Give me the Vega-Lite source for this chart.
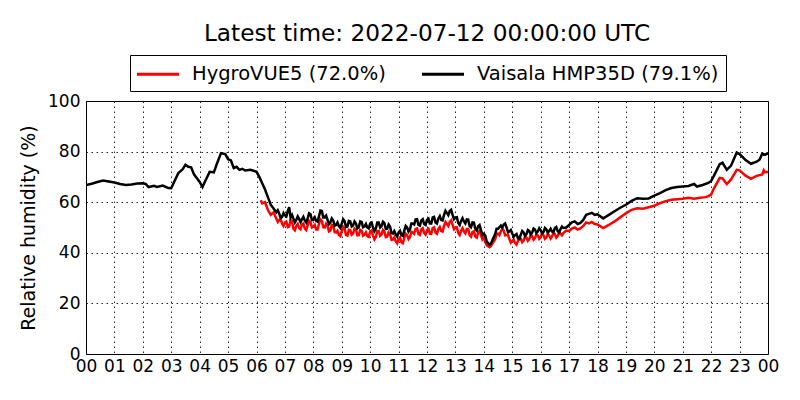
{
  "$schema": "https://vega.github.io/schema/vega-lite/v6.json",
  "autosize": "none",
  "width": 682,
  "height": 253,
  "padding": {"left": 86, "top": 101, "right": 32, "bottom": 46},
  "background": "white",
  "config": {
    "font": "DejaVu Sans",
    "view": {"stroke": "black", "strokeWidth": 1},
    "axis": {
      "domain": false,
      "ticks": false,
      "grid": true,
      "gridColor": "black",
      "gridDash": [1.5, 3.5],
      "gridWidth": 1,
      "gridOpacity": 0.85,
      "labelFontSize": 17,
      "labelColor": "black",
      "labelFont": "DejaVu Sans",
      "titleFont": "DejaVu Sans",
      "titleFontSize": 19,
      "titleFontWeight": "normal",
      "titleColor": "black"
    },
    "axisX": {"labelOverlap": false, "labelFlush": false, "labelPadding": 4},
    "legend": {
      "strokeColor": "black",
      "fillColor": "white",
      "padding": 7,
      "cornerRadius": 0
    }
  },
  "title": {
    "text": "Latest time: 2022-07-12 00:00:00 UTC",
    "fontSize": 23.2,
    "fontWeight": "normal",
    "font": "DejaVu Sans",
    "color": "black",
    "anchor": "middle",
    "frame": "group",
    "offset": 8
  },
  "datasets": {
    "vaisala": [
      {"t": 0.0, "rh": 66.8}, {"t": 0.2, "rh": 67.3}, {"t": 0.4, "rh": 68.0}, {"t": 0.6, "rh": 68.6},
      {"t": 0.8, "rh": 68.2}, {"t": 1.0, "rh": 67.8}, {"t": 1.2, "rh": 67.2}, {"t": 1.4, "rh": 66.8},
      {"t": 1.6, "rh": 67.0}, {"t": 1.8, "rh": 67.4}, {"t": 2.0, "rh": 67.5}, {"t": 2.1, "rh": 67.2},
      {"t": 2.2, "rh": 66.0}, {"t": 2.4, "rh": 66.5}, {"t": 2.5, "rh": 66.0}, {"t": 2.7, "rh": 66.6},
      {"t": 2.9, "rh": 65.6}, {"t": 3.0, "rh": 65.5}, {"t": 3.1, "rh": 68.0}, {"t": 3.25, "rh": 71.5},
      {"t": 3.4, "rh": 73.0}, {"t": 3.5, "rh": 74.8}, {"t": 3.6, "rh": 74.0}, {"t": 3.7, "rh": 73.8},
      {"t": 3.8, "rh": 71.0}, {"t": 4.0, "rh": 68.0}, {"t": 4.1, "rh": 66.0}, {"t": 4.2, "rh": 68.5},
      {"t": 4.35, "rh": 72.0}, {"t": 4.5, "rh": 71.8}, {"t": 4.6, "rh": 75.0}, {"t": 4.75, "rh": 79.4},
      {"t": 4.9, "rh": 79.0}, {"t": 5.0, "rh": 77.0}, {"t": 5.1, "rh": 76.5}, {"t": 5.2, "rh": 73.5},
      {"t": 5.3, "rh": 74.0}, {"t": 5.4, "rh": 72.8}, {"t": 5.5, "rh": 73.2}, {"t": 5.6, "rh": 72.5},
      {"t": 5.8, "rh": 72.8}, {"t": 6.0, "rh": 72.0}, {"t": 6.1, "rh": 70.0}, {"t": 6.2, "rh": 67.5},
      {"t": 6.3, "rh": 65.0}, {"t": 6.4, "rh": 62.0}, {"t": 6.5, "rh": 59.0}, {"t": 6.6, "rh": 57.5},
      {"t": 6.7, "rh": 56.0}, {"t": 6.75, "rh": 56.8}, {"t": 6.8, "rh": 55.5}, {"t": 6.85, "rh": 53.8},
      {"t": 6.9, "rh": 54.2}, {"t": 6.95, "rh": 55.7}, {"t": 7.0, "rh": 54.8}, {"t": 7.05, "rh": 54.4},
      {"t": 7.1, "rh": 56.5}, {"t": 7.15, "rh": 58.0}, {"t": 7.2, "rh": 54.0}, {"t": 7.25, "rh": 55.0},
      {"t": 7.3, "rh": 53.5}, {"t": 7.35, "rh": 52.0}, {"t": 7.4, "rh": 53.0}, {"t": 7.45, "rh": 54.4},
      {"t": 7.5, "rh": 53.4}, {"t": 7.55, "rh": 52.1}, {"t": 7.6, "rh": 53.2}, {"t": 7.65, "rh": 54.2},
      {"t": 7.7, "rh": 52.8}, {"t": 7.75, "rh": 52.0}, {"t": 7.8, "rh": 53.6}, {"t": 7.85, "rh": 55.6},
      {"t": 7.9, "rh": 55.2}, {"t": 7.95, "rh": 52.9}, {"t": 8.0, "rh": 53.0}, {"t": 8.05, "rh": 54.0},
      {"t": 8.1, "rh": 52.6}, {"t": 8.15, "rh": 52.3}, {"t": 8.2, "rh": 54.5}, {"t": 8.25, "rh": 56.7},
      {"t": 8.3, "rh": 56.5}, {"t": 8.35, "rh": 54.0}, {"t": 8.4, "rh": 54.0}, {"t": 8.45, "rh": 54.7},
      {"t": 8.5, "rh": 53.0}, {"t": 8.55, "rh": 51.3}, {"t": 8.6, "rh": 52.0}, {"t": 8.65, "rh": 53.6},
      {"t": 8.7, "rh": 52.8}, {"t": 8.75, "rh": 50.7}, {"t": 8.8, "rh": 51.0}, {"t": 8.85, "rh": 52.0},
      {"t": 8.9, "rh": 50.5}, {"t": 8.95, "rh": 49.8}, {"t": 9.0, "rh": 51.5}, {"t": 9.05, "rh": 53.2},
      {"t": 9.1, "rh": 52.5}, {"t": 9.15, "rh": 50.2}, {"t": 9.2, "rh": 50.4}, {"t": 9.25, "rh": 52.6},
      {"t": 9.3, "rh": 52.4}, {"t": 9.35, "rh": 50.4}, {"t": 9.4, "rh": 50.8}, {"t": 9.45, "rh": 52.4},
      {"t": 9.5, "rh": 51.6}, {"t": 9.55, "rh": 49.7}, {"t": 9.6, "rh": 50.2}, {"t": 9.65, "rh": 52.4},
      {"t": 9.7, "rh": 52.2}, {"t": 9.75, "rh": 50.1}, {"t": 9.8, "rh": 50.4}, {"t": 9.85, "rh": 51.4},
      {"t": 9.9, "rh": 50.0}, {"t": 9.95, "rh": 49.6}, {"t": 10.0, "rh": 51.6}, {"t": 10.05, "rh": 52.0},
      {"t": 10.1, "rh": 50.0}, {"t": 10.15, "rh": 48.6}, {"t": 10.2, "rh": 49.6}, {"t": 10.25, "rh": 52.0},
      {"t": 10.3, "rh": 52.0}, {"t": 10.35, "rh": 50.0}, {"t": 10.4, "rh": 50.5}, {"t": 10.45, "rh": 52.3},
      {"t": 10.5, "rh": 51.8}, {"t": 10.55, "rh": 49.4}, {"t": 10.6, "rh": 49.5}, {"t": 10.65, "rh": 51.2},
      {"t": 10.7, "rh": 50.4}, {"t": 10.75, "rh": 47.8}, {"t": 10.8, "rh": 47.6}, {"t": 10.85, "rh": 48.6},
      {"t": 10.9, "rh": 47.2}, {"t": 10.95, "rh": 46.4}, {"t": 11.0, "rh": 48.0}, {"t": 11.05, "rh": 48.7},
      {"t": 11.1, "rh": 47.0}, {"t": 11.15, "rh": 46.7}, {"t": 11.2, "rh": 48.8}, {"t": 11.25, "rh": 50.6},
      {"t": 11.3, "rh": 50.0}, {"t": 11.35, "rh": 48.4}, {"t": 11.4, "rh": 49.2}, {"t": 11.45, "rh": 51.6},
      {"t": 11.5, "rh": 51.6}, {"t": 11.55, "rh": 51.2}, {"t": 11.6, "rh": 53.2}, {"t": 11.65, "rh": 53.3},
      {"t": 11.7, "rh": 51.0}, {"t": 11.75, "rh": 50.7}, {"t": 11.8, "rh": 52.8}, {"t": 11.85, "rh": 53.3},
      {"t": 11.9, "rh": 51.4}, {"t": 11.95, "rh": 51.0}, {"t": 12.0, "rh": 53.0}, {"t": 12.05, "rh": 53.5},
      {"t": 12.1, "rh": 51.6}, {"t": 12.15, "rh": 51.6}, {"t": 12.2, "rh": 54.0}, {"t": 12.25, "rh": 54.2},
      {"t": 12.3, "rh": 52.0}, {"t": 12.35, "rh": 51.6}, {"t": 12.4, "rh": 53.6}, {"t": 12.45, "rh": 54.5},
      {"t": 12.5, "rh": 53.0}, {"t": 12.55, "rh": 52.8}, {"t": 12.6, "rh": 55.0}, {"t": 12.65, "rh": 56.6},
      {"t": 12.7, "rh": 55.8}, {"t": 12.75, "rh": 54.9}, {"t": 12.8, "rh": 56.5}, {"t": 12.85, "rh": 57.0},
      {"t": 12.9, "rh": 55.0}, {"t": 12.95, "rh": 53.3}, {"t": 13.0, "rh": 54.0}, {"t": 13.05, "rh": 54.1},
      {"t": 13.1, "rh": 51.8}, {"t": 13.15, "rh": 51.0}, {"t": 13.2, "rh": 52.6}, {"t": 13.25, "rh": 53.7},
      {"t": 13.3, "rh": 52.4}, {"t": 13.35, "rh": 51.6}, {"t": 13.4, "rh": 53.2}, {"t": 13.45, "rh": 53.1},
      {"t": 13.5, "rh": 50.6}, {"t": 13.55, "rh": 50.1}, {"t": 13.6, "rh": 52.0}, {"t": 13.65, "rh": 51.9},
      {"t": 13.7, "rh": 49.4}, {"t": 13.75, "rh": 48.8}, {"t": 13.8, "rh": 50.5}, {"t": 13.85, "rh": 51.0},
      {"t": 13.9, "rh": 49.0}, {"t": 13.95, "rh": 47.0}, {"t": 14.0, "rh": 47.5}, {"t": 14.05, "rh": 46.8},
      {"t": 14.1, "rh": 44.5}, {"t": 14.2, "rh": 43.2}, {"t": 14.25, "rh": 43.6}, {"t": 14.3, "rh": 45.0},
      {"t": 14.4, "rh": 47.5}, {"t": 14.45, "rh": 49.5}, {"t": 14.5, "rh": 49.5}, {"t": 14.6, "rh": 50.8},
      {"t": 14.65, "rh": 50.0}, {"t": 14.7, "rh": 51.2}, {"t": 14.75, "rh": 51.6}, {"t": 14.8, "rh": 50.0},
      {"t": 14.85, "rh": 48.2}, {"t": 14.9, "rh": 48.4}, {"t": 14.95, "rh": 49.0}, {"t": 15.0, "rh": 47.6},
      {"t": 15.05, "rh": 46.3}, {"t": 15.1, "rh": 47.0}, {"t": 15.15, "rh": 47.4}, {"t": 15.2, "rh": 45.8},
      {"t": 15.25, "rh": 45.5}, {"t": 15.3, "rh": 47.2}, {"t": 15.35, "rh": 48.6}, {"t": 15.4, "rh": 48.0},
      {"t": 15.45, "rh": 46.7}, {"t": 15.5, "rh": 47.4}, {"t": 15.55, "rh": 49.0}, {"t": 15.6, "rh": 48.6},
      {"t": 15.65, "rh": 47.3}, {"t": 15.7, "rh": 48.0}, {"t": 15.75, "rh": 49.6}, {"t": 15.8, "rh": 49.2},
      {"t": 15.85, "rh": 47.8}, {"t": 15.9, "rh": 48.4}, {"t": 15.95, "rh": 49.7}, {"t": 16.0, "rh": 49.0},
      {"t": 16.05, "rh": 47.6}, {"t": 16.1, "rh": 48.2}, {"t": 16.15, "rh": 49.8}, {"t": 16.2, "rh": 49.3},
      {"t": 16.25, "rh": 47.9}, {"t": 16.3, "rh": 48.6}, {"t": 16.35, "rh": 49.5}, {"t": 16.4, "rh": 48.4},
      {"t": 16.45, "rh": 48.1}, {"t": 16.5, "rh": 49.8}, {"t": 16.55, "rh": 50.2}, {"t": 16.6, "rh": 48.6},
      {"t": 16.65, "rh": 48.0}, {"t": 16.7, "rh": 49.4}, {"t": 16.75, "rh": 50.4}, {"t": 16.8, "rh": 49.8},
      {"t": 16.9, "rh": 50.0}, {"t": 17.0, "rh": 51.0}, {"t": 17.1, "rh": 52.0}, {"t": 17.2, "rh": 52.4},
      {"t": 17.3, "rh": 51.4}, {"t": 17.4, "rh": 51.8}, {"t": 17.5, "rh": 53.0}, {"t": 17.6, "rh": 55.0},
      {"t": 17.7, "rh": 55.4}, {"t": 17.8, "rh": 55.8}, {"t": 17.9, "rh": 55.0}, {"t": 18.0, "rh": 55.2},
      {"t": 18.2, "rh": 53.6}, {"t": 18.4, "rh": 55.0}, {"t": 18.6, "rh": 56.4}, {"t": 18.8, "rh": 57.8},
      {"t": 19.0, "rh": 59.0}, {"t": 19.2, "rh": 60.5}, {"t": 19.4, "rh": 61.6}, {"t": 19.6, "rh": 61.4},
      {"t": 19.8, "rh": 61.5}, {"t": 20.0, "rh": 62.6}, {"t": 20.2, "rh": 63.6}, {"t": 20.4, "rh": 64.8},
      {"t": 20.6, "rh": 65.6}, {"t": 20.8, "rh": 66.0}, {"t": 21.0, "rh": 66.2}, {"t": 21.2, "rh": 66.4},
      {"t": 21.4, "rh": 67.2}, {"t": 21.5, "rh": 66.2}, {"t": 21.7, "rh": 66.8}, {"t": 21.9, "rh": 67.6},
      {"t": 22.0, "rh": 68.4}, {"t": 22.1, "rh": 70.5}, {"t": 22.3, "rh": 75.0}, {"t": 22.4, "rh": 75.6},
      {"t": 22.55, "rh": 72.8}, {"t": 22.7, "rh": 74.5}, {"t": 22.9, "rh": 79.6}, {"t": 23.0, "rh": 79.0},
      {"t": 23.2, "rh": 76.8}, {"t": 23.4, "rh": 75.2}, {"t": 23.6, "rh": 76.0}, {"t": 23.7, "rh": 76.8},
      {"t": 23.8, "rh": 79.2}, {"t": 23.9, "rh": 78.8}, {"t": 24.0, "rh": 79.3}
    ],
    "hygrovue": [
      {"t": 6.15, "rh": 60.8}, {"t": 6.2, "rh": 59.5}, {"t": 6.3, "rh": 60.0}, {"t": 6.4, "rh": 57.0},
      {"t": 6.5, "rh": 55.0}, {"t": 6.6, "rh": 56.0}, {"t": 6.7, "rh": 53.5}, {"t": 6.75, "rh": 52.2},
      {"t": 6.8, "rh": 53.0}, {"t": 6.85, "rh": 53.3}, {"t": 6.9, "rh": 51.5}, {"t": 6.95, "rh": 50.6},
      {"t": 7.0, "rh": 52.0}, {"t": 7.05, "rh": 52.3}, {"t": 7.1, "rh": 50.2}, {"t": 7.15, "rh": 50.4},
      {"t": 7.2, "rh": 53.0}, {"t": 7.25, "rh": 52.5}, {"t": 7.3, "rh": 49.5}, {"t": 7.35, "rh": 48.9},
      {"t": 7.4, "rh": 50.6}, {"t": 7.45, "rh": 51.4}, {"t": 7.5, "rh": 49.8}, {"t": 7.55, "rh": 49.3},
      {"t": 7.6, "rh": 51.2}, {"t": 7.65, "rh": 51.6}, {"t": 7.7, "rh": 49.6}, {"t": 7.75, "rh": 49.0},
      {"t": 7.8, "rh": 50.8}, {"t": 7.85, "rh": 52.6}, {"t": 7.9, "rh": 52.0}, {"t": 7.95, "rh": 50.0},
      {"t": 8.0, "rh": 50.3}, {"t": 8.05, "rh": 51.0}, {"t": 8.1, "rh": 49.2}, {"t": 8.15, "rh": 49.2},
      {"t": 8.2, "rh": 51.5}, {"t": 8.25, "rh": 53.2}, {"t": 8.3, "rh": 52.6}, {"t": 8.35, "rh": 50.1},
      {"t": 8.4, "rh": 50.0}, {"t": 8.45, "rh": 51.5}, {"t": 8.5, "rh": 50.6}, {"t": 8.55, "rh": 48.5},
      {"t": 8.6, "rh": 48.8}, {"t": 8.65, "rh": 51.0}, {"t": 8.7, "rh": 50.8}, {"t": 8.75, "rh": 48.2},
      {"t": 8.8, "rh": 48.0}, {"t": 8.85, "rh": 48.7}, {"t": 8.9, "rh": 47.0}, {"t": 8.95, "rh": 46.6},
      {"t": 9.0, "rh": 48.6}, {"t": 9.05, "rh": 50.3}, {"t": 9.1, "rh": 49.6}, {"t": 9.15, "rh": 47.0},
      {"t": 9.2, "rh": 46.8}, {"t": 9.25, "rh": 49.1}, {"t": 9.3, "rh": 49.0}, {"t": 9.35, "rh": 47.1},
      {"t": 9.4, "rh": 47.6}, {"t": 9.45, "rh": 49.6}, {"t": 9.5, "rh": 49.2}, {"t": 9.55, "rh": 46.9},
      {"t": 9.6, "rh": 47.0}, {"t": 9.65, "rh": 49.1}, {"t": 9.7, "rh": 48.8}, {"t": 9.75, "rh": 46.8},
      {"t": 9.8, "rh": 47.2}, {"t": 9.85, "rh": 48.1}, {"t": 9.9, "rh": 46.6}, {"t": 9.95, "rh": 46.3},
      {"t": 10.0, "rh": 48.4}, {"t": 10.05, "rh": 48.8}, {"t": 10.1, "rh": 46.8}, {"t": 10.15, "rh": 45.3},
      {"t": 10.2, "rh": 46.2}, {"t": 10.25, "rh": 48.6}, {"t": 10.3, "rh": 48.6}, {"t": 10.35, "rh": 46.7},
      {"t": 10.4, "rh": 47.2}, {"t": 10.45, "rh": 49.0}, {"t": 10.5, "rh": 48.4}, {"t": 10.55, "rh": 46.2},
      {"t": 10.6, "rh": 46.4}, {"t": 10.65, "rh": 48.1}, {"t": 10.7, "rh": 47.4}, {"t": 10.75, "rh": 45.1},
      {"t": 10.8, "rh": 45.2}, {"t": 10.85, "rh": 46.1}, {"t": 10.9, "rh": 44.6}, {"t": 10.95, "rh": 43.8},
      {"t": 11.0, "rh": 45.4}, {"t": 11.05, "rh": 46.0}, {"t": 11.1, "rh": 44.2}, {"t": 11.15, "rh": 43.8},
      {"t": 11.2, "rh": 45.8}, {"t": 11.25, "rh": 47.6}, {"t": 11.3, "rh": 47.0}, {"t": 11.35, "rh": 45.4},
      {"t": 11.4, "rh": 46.2}, {"t": 11.45, "rh": 48.3}, {"t": 11.5, "rh": 48.0}, {"t": 11.55, "rh": 47.5},
      {"t": 11.6, "rh": 49.4}, {"t": 11.65, "rh": 49.6}, {"t": 11.7, "rh": 47.4}, {"t": 11.75, "rh": 47.1},
      {"t": 11.8, "rh": 49.2}, {"t": 11.85, "rh": 49.7}, {"t": 11.9, "rh": 47.8}, {"t": 11.95, "rh": 47.2},
      {"t": 12.0, "rh": 49.0}, {"t": 12.05, "rh": 49.5}, {"t": 12.1, "rh": 47.6}, {"t": 12.15, "rh": 47.5},
      {"t": 12.2, "rh": 49.8}, {"t": 12.25, "rh": 50.1}, {"t": 12.3, "rh": 48.0}, {"t": 12.35, "rh": 47.5},
      {"t": 12.4, "rh": 49.4}, {"t": 12.45, "rh": 50.2}, {"t": 12.5, "rh": 48.6}, {"t": 12.55, "rh": 48.4},
      {"t": 12.6, "rh": 50.6}, {"t": 12.65, "rh": 52.2}, {"t": 12.7, "rh": 51.4}, {"t": 12.75, "rh": 50.6},
      {"t": 12.8, "rh": 52.2}, {"t": 12.85, "rh": 52.8}, {"t": 12.9, "rh": 51.0}, {"t": 12.95, "rh": 49.3},
      {"t": 13.0, "rh": 50.0}, {"t": 13.05, "rh": 50.1}, {"t": 13.1, "rh": 47.8}, {"t": 13.15, "rh": 47.0},
      {"t": 13.2, "rh": 48.6}, {"t": 13.25, "rh": 49.7}, {"t": 13.3, "rh": 48.4}, {"t": 13.35, "rh": 47.7},
      {"t": 13.4, "rh": 49.4}, {"t": 13.45, "rh": 49.4}, {"t": 13.5, "rh": 47.0}, {"t": 13.55, "rh": 46.4},
      {"t": 13.6, "rh": 48.2}, {"t": 13.65, "rh": 48.5}, {"t": 13.7, "rh": 46.4}, {"t": 13.75, "rh": 46.0},
      {"t": 13.8, "rh": 48.0}, {"t": 13.85, "rh": 48.7}, {"t": 13.9, "rh": 47.0}, {"t": 13.95, "rh": 45.3},
      {"t": 14.0, "rh": 46.0}, {"t": 14.05, "rh": 44.5}, {"t": 14.1, "rh": 43.0}, {"t": 14.2, "rh": 42.2},
      {"t": 14.25, "rh": 42.6}, {"t": 14.3, "rh": 43.6}, {"t": 14.4, "rh": 45.4}, {"t": 14.45, "rh": 47.5},
      {"t": 14.5, "rh": 47.6}, {"t": 14.55, "rh": 47.0}, {"t": 14.6, "rh": 48.4}, {"t": 14.65, "rh": 49.6},
      {"t": 14.7, "rh": 48.8}, {"t": 14.75, "rh": 46.9}, {"t": 14.8, "rh": 47.0}, {"t": 14.85, "rh": 47.2},
      {"t": 14.9, "rh": 45.4}, {"t": 14.95, "rh": 44.0}, {"t": 15.0, "rh": 44.6}, {"t": 15.05, "rh": 45.2},
      {"t": 15.1, "rh": 43.8}, {"t": 15.15, "rh": 43.2}, {"t": 15.2, "rh": 44.6}, {"t": 15.25, "rh": 46.1},
      {"t": 15.3, "rh": 45.6}, {"t": 15.35, "rh": 44.2}, {"t": 15.4, "rh": 44.8}, {"t": 15.45, "rh": 46.4},
      {"t": 15.5, "rh": 46.0}, {"t": 15.55, "rh": 44.7}, {"t": 15.6, "rh": 45.4}, {"t": 15.65, "rh": 47.0},
      {"t": 15.7, "rh": 46.6}, {"t": 15.75, "rh": 45.2}, {"t": 15.8, "rh": 45.8}, {"t": 15.85, "rh": 47.3},
      {"t": 15.9, "rh": 46.8}, {"t": 15.95, "rh": 45.5}, {"t": 16.0, "rh": 46.2}, {"t": 16.05, "rh": 47.6},
      {"t": 16.1, "rh": 47.0}, {"t": 16.15, "rh": 45.5}, {"t": 16.2, "rh": 46.0}, {"t": 16.25, "rh": 47.4},
      {"t": 16.3, "rh": 46.8}, {"t": 16.35, "rh": 45.6}, {"t": 16.4, "rh": 46.4}, {"t": 16.45, "rh": 47.9},
      {"t": 16.5, "rh": 47.4}, {"t": 16.55, "rh": 46.0}, {"t": 16.6, "rh": 46.6}, {"t": 16.65, "rh": 48.1},
      {"t": 16.7, "rh": 47.6}, {"t": 16.75, "rh": 46.9}, {"t": 16.8, "rh": 47.8}, {"t": 16.9, "rh": 48.8},
      {"t": 17.0, "rh": 48.6}, {"t": 17.1, "rh": 49.6}, {"t": 17.2, "rh": 50.0}, {"t": 17.3, "rh": 49.2},
      {"t": 17.4, "rh": 49.6}, {"t": 17.5, "rh": 50.6}, {"t": 17.6, "rh": 52.0}, {"t": 17.7, "rh": 51.6},
      {"t": 17.8, "rh": 52.2}, {"t": 17.9, "rh": 51.4}, {"t": 18.0, "rh": 51.2}, {"t": 18.2, "rh": 49.8},
      {"t": 18.4, "rh": 51.0}, {"t": 18.6, "rh": 52.4}, {"t": 18.8, "rh": 54.0}, {"t": 19.0, "rh": 55.6},
      {"t": 19.2, "rh": 57.0}, {"t": 19.4, "rh": 57.6}, {"t": 19.6, "rh": 57.4}, {"t": 19.8, "rh": 58.0},
      {"t": 20.0, "rh": 58.6}, {"t": 20.2, "rh": 59.6}, {"t": 20.4, "rh": 60.4}, {"t": 20.6, "rh": 61.0},
      {"t": 20.8, "rh": 61.2}, {"t": 21.0, "rh": 61.4}, {"t": 21.2, "rh": 61.8}, {"t": 21.4, "rh": 61.4},
      {"t": 21.6, "rh": 61.8}, {"t": 21.8, "rh": 62.0}, {"t": 21.9, "rh": 62.4}, {"t": 22.0, "rh": 63.0},
      {"t": 22.1, "rh": 65.5}, {"t": 22.3, "rh": 69.6}, {"t": 22.4, "rh": 69.4}, {"t": 22.55, "rh": 67.2},
      {"t": 22.7, "rh": 69.0}, {"t": 22.9, "rh": 72.8}, {"t": 23.0, "rh": 72.6}, {"t": 23.2, "rh": 70.6},
      {"t": 23.4, "rh": 69.2}, {"t": 23.6, "rh": 70.4}, {"t": 23.8, "rh": 71.0}, {"t": 23.85, "rh": 72.6},
      {"t": 23.9, "rh": 71.8}, {"t": 24.0, "rh": 72.0}
    ]
  },
  "encoding": {
    "x": {
      "field": "t",
      "type": "quantitative",
      "scale": {"domain": [0, 24], "nice": false, "zero": false},
      "axis": {
        "title": null,
        "values": [0, 1, 2, 3, 4, 5, 6, 7, 8, 9, 10, 11, 12, 13, 14, 15, 16, 17, 18, 19, 20, 21, 22, 23, 24],
        "labelExpr": "datum.value == 24 ? '00' : (datum.value < 10 ? '0' + datum.value : '' + datum.value)",
        "labelOverlap": false,
        "labelFlush": false
      }
    },
    "y": {
      "field": "rh",
      "type": "quantitative",
      "scale": {"domain": [0, 100], "nice": false},
      "axis": {
        "title": "Relative humidity (%)",
        "values": [0, 20, 40, 60, 80, 100],
        "labelPadding": 6,
        "titlePadding": 9
      }
    }
  },
  "layer": [
    {
      "data": {"name": "hygrovue"},
      "mark": {"type": "line", "strokeWidth": 2.5, "clip": true},
      "encoding": {
        "color": {"datum": "HygroVUE5 (72.0%)"}
      }
    },
    {
      "data": {"name": "vaisala"},
      "mark": {"type": "line", "strokeWidth": 2.5, "clip": true},
      "encoding": {
        "color": {
          "datum": "Vaisala HMP35D (79.1%)",
          "type": "nominal",
          "scale": {
            "domain": ["HygroVUE5 (72.0%)", "Vaisala HMP35D (79.1%)"],
            "range": ["#ff0000", "#000000"]
          },
          "legend": {
            "title": null,
            "orient": "none",
            "legendX": 44,
            "legendY": -46,
            "direction": "horizontal",
            "symbolType": "M-2,0H2",
            "symbolSize": 441,
            "symbolStrokeWidth": 3,
            "symbolOffset": 9,
            "labelFontSize": 19.5,
            "labelFont": "DejaVu Sans",
            "labelColor": "black",
            "labelLimit": 400,
            "labelOffset": 22,
            "columnPadding": 30
          }
        }
      }
    }
  ]
}
